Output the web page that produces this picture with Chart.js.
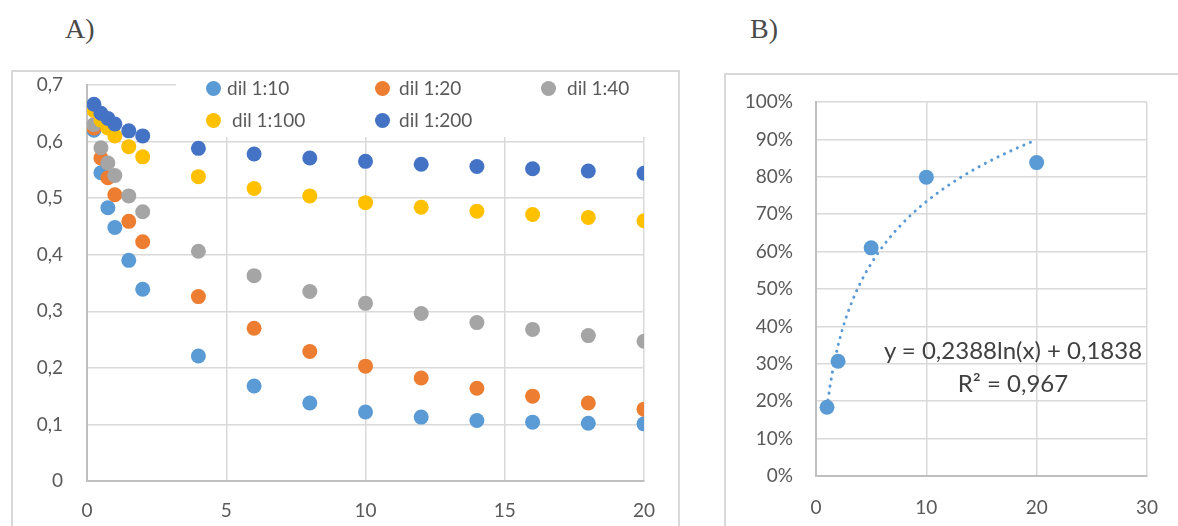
<!DOCTYPE html>
<html>
<head>
<meta charset="utf-8">
<script src="https://cdn.jsdelivr.net/npm/chart.js@4/dist/chart.umd.min.js"></script>
<style>
  body { margin: 0; width: 1178px; height: 526px; overflow: hidden; background: #fff; position: relative; font-family: Lato, "Open Sans", sans-serif; }
  .painel { position: absolute; border: 2px solid #d9d9d9; box-sizing: border-box; }
  canvas { position: absolute; }
  .letra { position: absolute; font-family: "Liberation Serif", serif; font-size: 28px; color: #4a4a4a; line-height: 32px; }
  .legenda { position: absolute; left: 176px; top: 77px; width: 472px; height: 60px; background: #fff; }
  .item { position: absolute; font-size: 19px; color: #595959; white-space: nowrap; line-height: 22px; }
  .item span { position: absolute; width: 15px; height: 15px; border-radius: 50%; top: 3.5px; }
  .equacao { position: absolute; left: 863px; top: 333px; width: 300px; text-align: center; font-size: 24px; color: #404040; line-height: 33px; }
</style>
</head>
<body>
<div class="letra" style="left:65px; top:13px;">A)</div>
<div class="letra" style="left:750px; top:13px;">B)</div>
<div class="painel" style="left:11px; top:70px; width:669px; height:470px;"></div>
<div class="painel" style="left:724px; top:73px; width:470px; height:470px;"></div>
<canvas id="graficoA" width="666" height="455" style="left:12px; top:71px;"></canvas>
<canvas id="graficoB" width="453" height="452" style="left:725px; top:74px;"></canvas>
<div class="legenda" id="legenda"></div>
<div class="equacao">y = 0,2388ln(x) + 0,1838<br>R² = 0,967</div>

<script>
// ---- dados do grafico A (absorbancia x tempo) ----
const tempos = [0.25, 0.5, 0.75, 1, 1.5, 2, 4, 6, 8, 10, 12, 14, 16, 18, 20];
const dil10  = [0.620, 0.545, 0.483, 0.448, 0.390, 0.339, 0.221, 0.168, 0.138, 0.122, 0.113, 0.107, 0.104, 0.102, 0.101];
const dil20  = [0.624, 0.571, 0.536, 0.506, 0.459, 0.423, 0.326, 0.270, 0.229, 0.203, 0.182, 0.164, 0.150, 0.138, 0.127];
const dil40  = [0.630, 0.589, 0.562, 0.540, 0.504, 0.476, 0.406, 0.363, 0.335, 0.314, 0.296, 0.280, 0.268, 0.257, 0.247];
const dil100 = [0.655, 0.638, 0.624, 0.610, 0.591, 0.573, 0.538, 0.517, 0.504, 0.492, 0.484, 0.477, 0.471, 0.466, 0.460];
const dil200 = [0.666, 0.650, 0.641, 0.631, 0.619, 0.610, 0.588, 0.578, 0.571, 0.565, 0.560, 0.556, 0.552, 0.548, 0.544];
const nomesSeries = ['dil 1:10', 'dil 1:20', 'dil 1:40', 'dil 1:100', 'dil 1:200'];
const coresSeries = ['#5B9BD5', '#ED7D31', '#A5A5A5', '#FFC000', '#4472C4'];
const ticksYA = ['0', '0,1', '0,2', '0,3', '0,4', '0,5', '0,6', '0,7'];

// ---- dados do grafico B (porcentagem x diluicao) ----
const diluicoes = [1, 2, 5, 10, 20];
const porcentagens = [0.184, 0.307, 0.610, 0.799, 0.838];
const ticksYB = ['0%', '10%', '20%', '30%', '40%', '50%', '60%', '70%', '80%', '90%', '100%'];
// linha de tendencia logaritmica mostrada no grafico: y = a ln(x) + b
const tendA = 0.2388;
const tendB = 0.1838;

const CINZA_TEXTO = '#595959';
const CINZA_GRADE = '#d9d9d9';
const CINZA_EIXO = '#bfbfbf';
const fonteTicks = { family: 'Lato', size: 19 };

function pontos(xs, ys) {
    return xs.map((x, i) => ({ x: x, y: ys[i] }));
}

// a area do grafico fica onde o layout manda, sem folga extra dos rotulos
function fixarEixo(prop, tamanho) {
    return s => {
        s[prop] = tamanho;
        s.paddingTop = 0;
        s.paddingBottom = 0;
    };
}

// --- GRAFICO A ---
const valoresA = [dil10, dil20, dil40, dil100, dil200];
const datasetsA = valoresA.map((serie, i) => ({
    label: nomesSeries[i],
    data: pontos(tempos, serie),
    backgroundColor: coresSeries[i],
    borderColor: coresSeries[i],
    pointRadius: 7.5,
    pointBorderWidth: 0,
    pointHoverRadius: 7.5,
    order: valoresA.length - i   // serie 1:200 por cima
}));

new Chart(document.getElementById('graficoA'), {
    type: 'scatter',
    data: { datasets: datasetsA },
    options: {
        responsive: false,
        animation: false,
        layout: { padding: { left: 0, right: 34, top: 14, bottom: 0 } },
        plugins: { legend: { display: false }, tooltip: { enabled: false } },
        scales: {
            x: {
                type: 'linear', min: 0, max: 20,
                ticks: { stepSize: 5, color: CINZA_TEXTO, font: fonteTicks, padding: 18 },
                grid: { color: CINZA_GRADE, lineWidth: 1.5, drawTicks: false },
                border: { color: CINZA_EIXO, width: 2 },
                afterFit: fixarEixo('height', 45)
            },
            y: {
                min: 0, max: 0.7,
                ticks: { stepSize: 0.1, color: CINZA_TEXTO, font: fonteTicks, padding: 24,
                         callback: (v, i) => ticksYA[i] },
                grid: { color: CINZA_GRADE, lineWidth: 1.5, drawTicks: false },
                border: { color: CINZA_EIXO, width: 2 },
                afterFit: fixarEixo('width', 75)
            }
        }
    }
});

// legenda desenhada por cima da area do grafico, como no original
const posLegenda = [[37, 11, 51], [206, 11, 223], [372, 11, 391], [37, 43, 56], [206, 43, 223]];
const legenda = document.getElementById('legenda');
nomesSeries.forEach((nome, i) => {
    const [mx, my, tx] = posLegenda[i];
    const item = document.createElement('div');
    item.className = 'item';
    item.style.left = tx + 'px';
    item.style.top = (my - 11) + 'px';
    item.textContent = nome;
    const bola = document.createElement('span');
    bola.style.background = coresSeries[i];
    bola.style.left = (mx - tx - 7.5) + 'px';
    item.appendChild(bola);
    legenda.appendChild(item);
});

// --- GRAFICO B ---
const xsTendencia = [];
for (let x = 1; x <= 20.001; x += 0.25) xsTendencia.push(x);
const tendencia = xsTendencia.map(x => ({ x: x, y: tendA * Math.log(x) + tendB }));

new Chart(document.getElementById('graficoB'), {
    type: 'scatter',
    data: {
        datasets: [
            {
                label: 'dados',
                data: pontos(diluicoes, porcentagens),
                backgroundColor: '#5B9BD5',
                borderColor: '#5B9BD5',
                pointRadius: 7.5,
                pointBorderWidth: 0,
                order: 0
            },
            {
                label: 'tendencia',
                data: tendencia,
                showLine: true,
                borderColor: '#5B9BD5',
                borderWidth: 3,
                borderDash: [0.1, 7],
                borderCapStyle: 'round',
                pointRadius: 0,
                tension: 0,
                order: 1
            }
        ]
    },
    options: {
        responsive: false,
        animation: false,
        layout: { padding: { left: 0, right: 27, top: 28, bottom: 0 } },
        plugins: { legend: { display: false }, tooltip: { enabled: false } },
        scales: {
            x: {
                type: 'linear', min: 0, max: 30,
                ticks: { stepSize: 10, color: CINZA_TEXTO, font: fonteTicks, padding: 20 },
                grid: { color: CINZA_GRADE, lineWidth: 1.5, drawTicks: false },
                border: { color: CINZA_EIXO, width: 2 },
                afterFit: fixarEixo('height', 50)
            },
            y: {
                min: 0, max: 1,
                ticks: { stepSize: 0.1, color: CINZA_TEXTO, font: fonteTicks, padding: 23,
                         callback: (v, i) => ticksYB[i] },
                grid: { color: CINZA_GRADE, lineWidth: 1.5, drawTicks: false },
                border: { color: CINZA_EIXO, width: 2 },
                afterFit: fixarEixo('width', 91)
            }
        }
    }
});
</script>
</body>
</html>
